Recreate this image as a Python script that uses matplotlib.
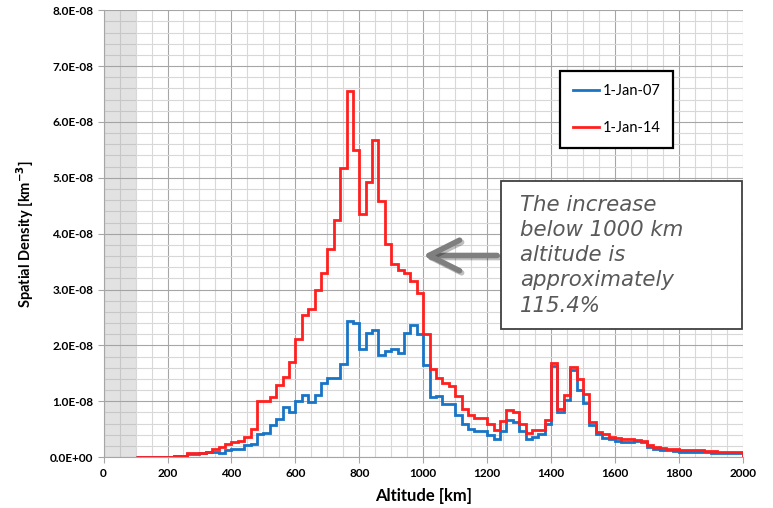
import numpy as np
import matplotlib
matplotlib.use('Agg')
import matplotlib.pyplot as plt
from matplotlib.ticker import MultipleLocator, FuncFormatter
from matplotlib.patches import Rectangle
import matplotlib.patheffects as pe

plt.rcParams['font.family'] = ['Lato', 'DejaVu Sans']

# altitude bins, 20 km wide, from 100 km up to 2000 km
bin_start = 100
bin_width = 20

# spatial density in units of 1E-08 km^-3, one value per bin
density_2007 = [
    0.00, 0.00, 0.00, 0.00, 0.01, 0.01, 0.02, 0.02, 0.05, 0.05,
    0.07, 0.10, 0.09, 0.07, 0.13, 0.15, 0.14, 0.21, 0.24, 0.42,
    0.44, 0.58, 0.69, 0.89, 0.81, 1.00, 1.11, 0.99, 1.11, 1.32,
    1.41, 1.42, 1.66, 2.43, 2.41, 1.93, 2.23, 2.28, 1.82, 1.90,
    1.93, 1.86, 2.23, 2.37, 2.21, 1.65, 1.07, 1.09, 0.95, 0.95,
    0.76, 0.60, 0.51, 0.47, 0.47, 0.39, 0.32, 0.47, 0.66, 0.63,
    0.47, 0.32, 0.36, 0.41, 0.59, 1.63, 0.81, 1.03, 1.56, 1.21,
    0.97, 0.57, 0.41, 0.35, 0.32, 0.29, 0.28, 0.28, 0.29, 0.27,
    0.18, 0.15, 0.13, 0.12, 0.11, 0.10, 0.10, 0.09, 0.09, 0.09,
    0.08, 0.08, 0.08, 0.08, 0.07,
]
density_2014 = [
    0.00, 0.00, 0.00, 0.00, 0.01, 0.01, 0.02, 0.03, 0.07, 0.07,
    0.08, 0.10, 0.14, 0.19, 0.24, 0.27, 0.29, 0.36, 0.51, 1.00,
    1.00, 1.08, 1.30, 1.44, 1.70, 2.11, 2.54, 2.66, 2.99, 3.30,
    3.73, 4.24, 5.18, 6.55, 5.50, 4.36, 4.93, 5.67, 4.59, 3.82,
    3.45, 3.35, 3.30, 3.15, 2.93, 2.21, 1.57, 1.42, 1.33, 1.27,
    1.10, 0.87, 0.75, 0.71, 0.71, 0.60, 0.49, 0.64, 0.84, 0.81,
    0.59, 0.43, 0.48, 0.49, 0.66, 1.69, 0.87, 1.11, 1.62, 1.40,
    1.13, 0.63, 0.45, 0.41, 0.36, 0.34, 0.33, 0.32, 0.30, 0.29,
    0.22, 0.18, 0.16, 0.14, 0.14, 0.13, 0.13, 0.12, 0.12, 0.11,
    0.11, 0.10, 0.10, 0.10, 0.09,
]
labels = ['1-Jan-07', '1-Jan-14']
colors = ['#1874c6', '#ff1f1f']
note = 'The increase\nbelow 1000 km\naltitude is\napproximately\n115.4%'

edges = bin_start + bin_width * np.arange(len(density_2007) + 1)
v07 = np.array(density_2007) * 1e-8
v14 = np.array(density_2014) * 1e-8

fig = plt.figure(figsize=(7.73, 5.08), dpi=100)
ax = fig.add_axes([0.134, 0.100, 0.827, 0.880])

# excluded region below 100 km (grid shows through)
ax.axvspan(0, 100, color='#a0a0a0', alpha=0.3, zorder=2, lw=0)

ax.stairs(v07, edges, color=colors[0], lw=2.0, label=labels[0], zorder=3)
ax.stairs(v14, edges, color=colors[1], lw=2.0, label=labels[1], zorder=4)

ax.set_xlim(0, 2000)
ax.set_ylim(0, 8e-8)
ax.xaxis.set_major_locator(MultipleLocator(200))
ax.xaxis.set_minor_locator(MultipleLocator(50))
ax.yaxis.set_major_locator(MultipleLocator(1e-8))
ax.yaxis.set_minor_locator(MultipleLocator(0.2e-8))
ax.yaxis.set_major_formatter(FuncFormatter(lambda v, p: '{:.1E}'.format(v)))
ax.set_axisbelow(True)
ax.grid(which='major', color='#a6a6a6', lw=0.8)
ax.grid(which='minor', color='#d8d8d8', lw=0.8)
for s in ['top', 'right']:
    ax.spines[s].set_visible(False)
for s in ['left', 'bottom']:
    ax.spines[s].set_color('#a6a6a6')
ax.tick_params(which='major', length=4, color='#a6a6a6', labelsize=8.5)
ax.tick_params(which='minor', length=0)
for t in ax.get_xticklabels() + ax.get_yticklabels():
    t.set_fontweight('bold')

ax.set_xlabel('Altitude [km]', fontsize=12, fontweight='bold', labelpad=7)
ax.set_ylabel(r'Spatial Density [km$^{\mathbf{-3}}$]', fontsize=10.5,
              fontweight='bold', labelpad=10)

leg = ax.legend(loc='upper left', bbox_to_anchor=(0.714, 0.865), fontsize=10.5,
                frameon=True, fancybox=False, edgecolor='black', framealpha=1,
                labelspacing=1.6, handlelength=1.8, handletextpad=0.2,
                borderpad=0.9, borderaxespad=0)
leg.get_frame().set_linewidth(1.6)
leg.set_zorder(7)

# annotation box
ax.add_patch(Rectangle((0.621, 0.286), 0.377, 0.331, transform=ax.transAxes,
                       fc='white', ec='#404040', lw=1.3, zorder=6))
ax.text(0.652, 0.452, note, transform=ax.transAxes, fontsize=15.3,
        family='DejaVu Sans', style='italic', color='#595959',
        va='center', ha='left', linespacing=1.33, zorder=7)

ax.annotate('', xy=(990, 3.61e-8), xytext=(1240, 3.61e-8),
            arrowprops=dict(arrowstyle='->,head_length=1.1,head_width=0.55',
                            mutation_scale=20, color='#7f7f7f', lw=4,
                            path_effects=[pe.SimpleLineShadow(offset=(1.5, -1.5), alpha=0.25),
                                          pe.Normal()]),
            zorder=5)

fig.savefig('out.png', dpi=100)
